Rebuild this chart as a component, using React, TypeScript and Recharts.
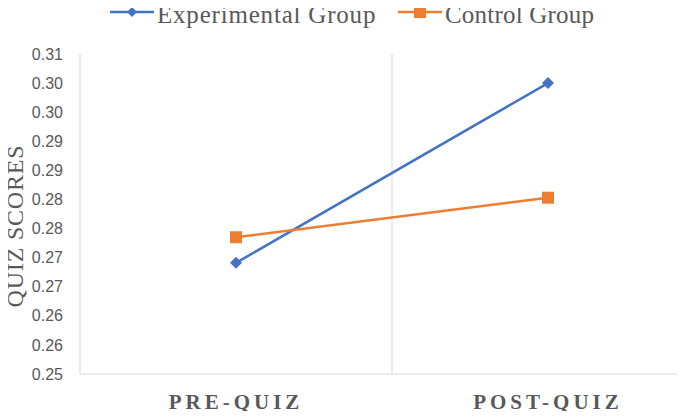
import { LineChart, Line, XAxis, YAxis, ReferenceLine } from 'recharts';

const categories = ['PRE-QUIZ', 'POST-QUIZ'];
const experimentalScores = [0.2691, 0.3];
const controlScores = [0.2735, 0.2803];
const yTicks = [0.25, 0.255, 0.26, 0.265, 0.27, 0.275, 0.28, 0.285, 0.29, 0.295, 0.3, 0.305];
const yTickLabels = ['0.25', '0.26', '0.26', '0.27', '0.27', '0.28', '0.28', '0.29', '0.29', '0.30', '0.30', '0.31'];

const BLUE = '#4472C4';
const ORANGE = '#ED7D31';
const TEXT = '#595959';
const GRID = '#d9d9d9';
const SERIF = "'Liberation Serif', 'Times New Roman', serif";

const data = categories.map((name, i) => ({
  pos: i + 0.5,
  name,
  experimental: experimentalScores[i],
  control: controlScores[i],
}));

const Diamond = ({ cx, cy }: any) => (
  <path d={`M${cx},${cy - 6} L${cx + 6},${cy} L${cx},${cy + 6} L${cx - 6},${cy} Z`} fill={BLUE} />
);

const Square = ({ cx, cy }: any) => <rect x={cx - 6} y={cy - 6} width={12} height={12} fill={ORANGE} />;

// legend + y title drawn on top of the chart
const Overlay = () => (
  <svg width={685} height={419} style={{ position: 'absolute', left: 0, top: 0, pointerEvents: 'none' }}>
    <text
      x={23}
      y={226}
      transform="rotate(-90, 23, 226)"
      textAnchor="middle"
      fontFamily={SERIF}
      fontSize={24}
      letterSpacing={0.8}
      fill={TEXT}
    >
      QUIZ SCORES
    </text>
    <line x1={110} y1={12} x2={154} y2={12} stroke={BLUE} strokeWidth={2.5} />
    <path d="M132,7 L137,12 L132,17 L127,12 Z" fill={BLUE} />
    <text x={157} y={23} fontFamily={SERIF} fontSize={25} letterSpacing={0.8} fill={TEXT}>
      Experimental Group
    </text>
    <line x1={398} y1={12} x2={442} y2={12} stroke={ORANGE} strokeWidth={2.5} />
    <rect x={414} y={6} width={12} height={12} fill={ORANGE} />
    <text x={445} y={23} fontFamily={SERIF} fontSize={25} letterSpacing={0.2} fill={TEXT}>
      Control Group
    </text>
  </svg>
);

export default function App() {
  return (
    <div style={{ margin: -8, width: 685, height: 419, overflow: 'hidden', position: 'relative', background: '#fff' }}>
      <LineChart width={706} height={419} data={data} margin={{ top: 54, right: 2, bottom: 0, left: 0 }}>
        <XAxis
          dataKey="pos"
          type="number"
          domain={[0, 2]}
          ticks={[0.5, 1.5]}
          tickFormatter={(v: number) => categories[Math.floor(v)]}
          height={45}
          axisLine={{ stroke: GRID }}
          tickLine={false}
          tickSize={0}
          tickMargin={20}
          tick={{ fill: TEXT, fontFamily: SERIF, fontSize: 21, fontWeight: 'bold', letterSpacing: 4 }}
        />
        <YAxis
          domain={[0.25, 0.305]}
          ticks={yTicks}
          tickFormatter={(v: number) => yTickLabels[yTicks.indexOf(v)]}
          width={80}
          axisLine={{ stroke: GRID }}
          tickLine={false}
          tickSize={0}
          tickMargin={17}
          interval={0}
          tick={{ fill: TEXT, fontFamily: "'Liberation Sans', Arial, sans-serif", fontSize: 16 }}
        />
        <ReferenceLine x={1} stroke={GRID} strokeWidth={1} />
        <Line
          type="linear"
          dataKey="experimental"
          stroke={BLUE}
          strokeWidth={2.5}
          dot={<Diamond />}
          isAnimationActive={false}
        />
        <Line
          type="linear"
          dataKey="control"
          stroke={ORANGE}
          strokeWidth={2.5}
          dot={<Square />}
          isAnimationActive={false}
        />
      </LineChart>
      <Overlay />
    </div>
  );
}
